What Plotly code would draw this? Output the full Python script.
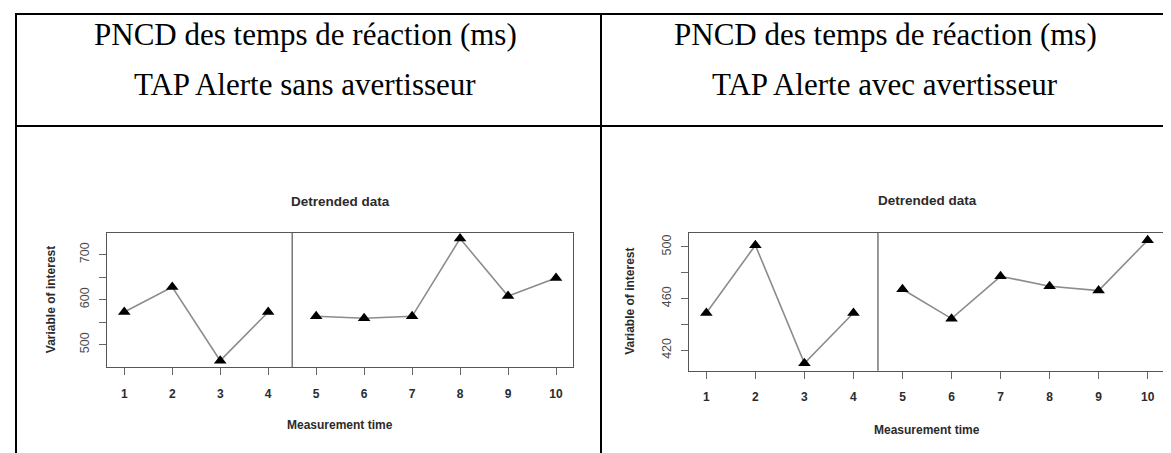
import plotly.graph_objects as go

# Detrended reaction times (ms), TAP Alerte, 10 measurement times
times = [1, 2, 3, 4, 5, 6, 7, 8, 9, 10]
sans_values = [572.7, 628.0, 464.5, 572.7, 563.0, 558.6, 563.0, 735.6, 608.0, 648.0]
avec_values = [448.9, 501.3, 409.9, 448.9, 467.3, 444.5, 477.3, 469.6, 466.2, 505.2]
phase_a_len = 4  # phase A = times 1-4, phase B = times 5-10

header_lines = ["PNCD des temps de réaction (ms)"]
header_sub = ["TAP Alerte sans avertisseur", "TAP Alerte avec avertisseur"]

sans_ticks = [500, 550, 600, 650, 700]
sans_ticktext = ["500", "", "600", "", "700"]
avec_ticks = [420, 440, 460, 480, 500]
avec_ticktext = ["420", "", "460", "", "500"]

W, H = 1171, 453


def px(x):
    return x / W


def py(y):
    return 1 - y / H


fig = go.Figure()

panels = [
    dict(vals=sans_values, ticks=sans_ticks, ticktext=sans_ticktext, yrange=[449.8, 748.0],
         left=99, right=565.3, top=225, bottom=359.3, ytitle_x=43,
         title_y=194, xtitle_y=417),
    dict(vals=avec_values, ticks=avec_ticks, ticktext=avec_ticktext, yrange=[404.2, 510.8],
         left=680.7, right=1157.3, top=225, bottom=362.7, ytitle_x=622,
         title_y=193, xtitle_y=422),
]

annotations = []
shapes = []
bold = dict(family="Liberation Sans, Arial", size=12, color="#2b2b2b")

for i, p in enumerate(panels):
    n = "" if i == 0 else str(i + 1)
    xa, ya = "x" + n, "y" + n
    for seg in (slice(0, phase_a_len), slice(phase_a_len, None)):
        fig.add_trace(go.Scatter(
            x=times[seg], y=p["vals"][seg], xaxis=xa, yaxis=ya,
            mode="lines+markers",
            line=dict(color="#8c8c8c", width=1.6),
            marker=dict(symbol="triangle-up", size=11, color="black"),
            showlegend=False, hoverinfo="x+y",
        ))
    fig.layout["xaxis" + n] = dict(
        domain=[px(p["left"]), px(p["right"])], anchor=ya, range=[0.64, 10.36],
        tickvals=times, ticks="outside", ticklen=7, tickcolor="#666",
        showline=True, linecolor="#555", mirror=True, showgrid=False, zeroline=False,
        tickfont=dict(family="Liberation Sans, Arial", size=12, color="#2b2b2b", weight="bold"),
        ticklabelstandoff=8, fixedrange=True,
    )
    fig.layout["yaxis" + n] = dict(
        domain=[py(p["bottom"]), py(p["top"])], anchor=xa, range=p["yrange"],
        tickvals=p["ticks"], ticktext=p["ticktext"], tickangle=-90,
        ticks="outside", ticklen=7, tickcolor="#666",
        showline=True, linecolor="#555", mirror=True, showgrid=False, zeroline=False,
        tickfont=dict(family="Liberation Sans, Arial", size=12.5, color="#4a4a4a"),
        ticklabelstandoff=5, fixedrange=True,
    )
    # phase change line between time 4 and 5
    shapes.append(dict(type="line", xref=xa, yref=ya + " domain",
                       x0=phase_a_len + 0.5, x1=phase_a_len + 0.5, y0=0, y1=1,
                       line=dict(color="#555", width=1.2)))
    cx = (p["left"] + p["right"]) / 2
    annotations += [
        dict(text="<b>Detrended data</b>", x=px(cx), y=py(p["title_y"]), xref="paper", yref="paper",
             showarrow=False, font=dict(bold, size=13.5), xanchor="center", yanchor="middle"),
        dict(text="<b>Measurement time</b>", x=px(cx), y=py(p["xtitle_y"]), xref="paper", yref="paper",
             showarrow=False, font=bold, xanchor="center", yanchor="middle"),
        dict(text="<b>Variable of interest</b>", x=px(p["ytitle_x"]), y=py((p["top"] + p["bottom"]) / 2),
             xref="paper", yref="paper", showarrow=False, font=bold, textangle=-90,
             xanchor="center", yanchor="middle"),
    ]

# table header text
serif = dict(family="Liberation Serif, Times New Roman", size=31, color="black")
for cx, sub in zip([297, 877], header_sub):
    annotations += [
        dict(text=header_lines[0], x=px(cx), y=py(27), xref="paper", yref="paper",
             showarrow=False, font=serif, xanchor="center", yanchor="middle"),
        dict(text=sub, x=px(cx), y=py(77), xref="paper", yref="paper",
             showarrow=False, font=serif, xanchor="center", yanchor="middle"),
    ]

# table borders
border = dict(color="black", width=2)
shapes += [
    dict(type="line", xref="paper", yref="paper", x0=px(7), x1=1.01, y0=py(6), y1=py(6), line=border),
    dict(type="line", xref="paper", yref="paper", x0=px(7), x1=1.01, y0=py(118), y1=py(118), line=border),
    dict(type="line", xref="paper", yref="paper", x0=px(8), x1=px(8), y0=py(5), y1=-0.01, line=border),
    dict(type="line", xref="paper", yref="paper", x0=px(593), x1=px(593), y0=py(5), y1=-0.01, line=border),
]

fig.update_layout(
    width=W, height=H, margin=dict(l=0, r=0, t=0, b=0),
    paper_bgcolor="white", plot_bgcolor="white",
    annotations=annotations, shapes=shapes,
)

fig.write_html("out.html", config={"displayModeBar": False})
